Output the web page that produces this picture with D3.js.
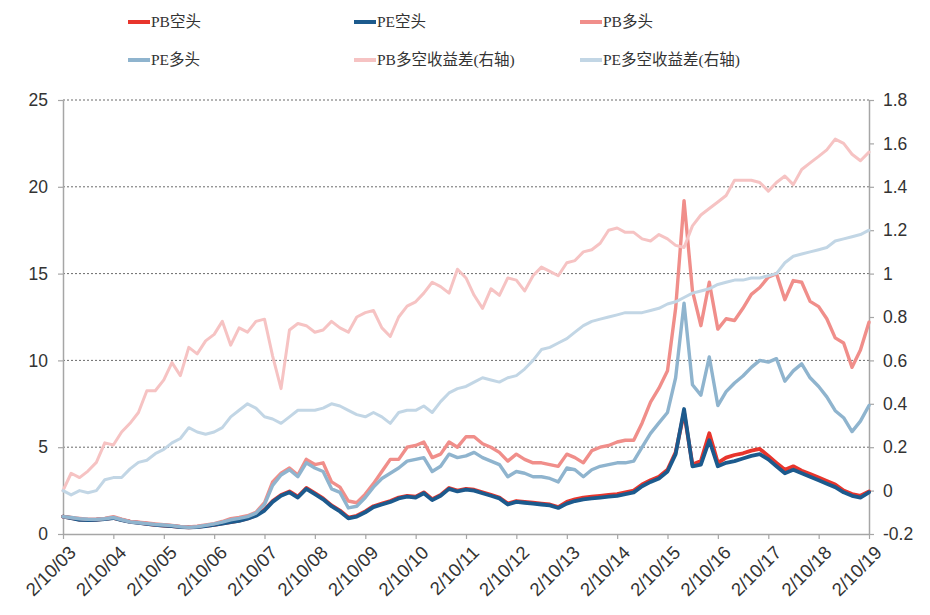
<!DOCTYPE html>
<html><head><meta charset="utf-8">
<script src="https://cdn.jsdelivr.net/npm/d3@7"></script>
<style>body{margin:0;background:#fff} svg{display:block}</style>
</head><body><svg id="c" width="930" height="615"></svg>
<script>
const dates = [
"2003-02-10","2003-04-10","2003-06-10","2003-08-10","2003-10-10","2003-12-10",
"2004-02-10","2004-04-10","2004-06-10","2004-08-10","2004-10-10","2004-12-10",
"2005-02-10","2005-04-10","2005-06-10","2005-08-10","2005-10-10","2005-12-10",
"2006-02-10","2006-04-10","2006-06-10","2006-08-10","2006-10-10","2006-12-10",
"2007-02-10","2007-04-10","2007-06-10","2007-08-10","2007-10-10","2007-12-10",
"2008-02-10","2008-04-10","2008-06-10","2008-08-10","2008-10-10","2008-12-10",
"2009-02-10","2009-04-10","2009-06-10","2009-08-10","2009-10-10","2009-12-10",
"2010-02-10","2010-04-10","2010-06-10","2010-08-10","2010-10-10","2010-12-10",
"2011-02-10","2011-04-10","2011-06-10","2011-08-10","2011-10-10","2011-12-10",
"2012-02-10","2012-04-10","2012-06-10","2012-08-10","2012-10-10","2012-12-10",
"2013-02-10","2013-04-10","2013-06-10","2013-08-10","2013-10-10","2013-12-10",
"2014-02-10","2014-04-10","2014-06-10","2014-08-10","2014-10-10","2014-12-10",
"2015-02-10","2015-04-10","2015-06-10","2015-08-10","2015-10-10","2015-12-10",
"2016-02-10","2016-04-10","2016-06-10","2016-08-10","2016-10-10","2016-12-10",
"2017-02-10","2017-04-10","2017-06-10","2017-08-10","2017-10-10","2017-12-10",
"2018-02-10","2018-04-10","2018-06-10","2018-08-10","2018-10-10","2018-12-10",
"2019-02-10"];

const pbShort = [
1.00,0.93,0.83,0.81,0.83,0.87, 0.93,0.81,0.71,0.65,0.59,0.53, 0.49,0.46,0.41,0.39,0.41,0.47,
0.53,0.61,0.69,0.77,0.90,1.08, 1.40,1.90,2.25,2.45,2.15,2.65, 2.35,2.05,1.65,1.35,0.95,1.05,
1.30,1.60,1.75,1.90,2.10,2.20, 2.15,2.40,2.00,2.25,2.65,2.50, 2.60,2.55,2.40,2.25,2.10,1.75,
1.90,1.85,1.80,1.75,1.70,1.55, 1.85,2.00,2.10,2.15,2.20,2.25, 2.30,2.40,2.50,2.85,3.10,3.30,
3.70,4.70,7.00,4.00,4.20,5.80, 4.10,4.40,4.55,4.65,4.80,4.90, 4.50,4.10,3.70,3.90,3.65,3.45,
3.25,3.05,2.85,2.50,2.30,2.20, 2.45];

const peShort = [
1.00,0.92,0.82,0.80,0.82,0.86, 0.92,0.80,0.70,0.64,0.58,0.52, 0.48,0.45,0.40,0.38,0.40,0.46,
0.52,0.60,0.68,0.75,0.88,1.05, 1.35,1.85,2.20,2.40,2.10,2.60, 2.30,2.00,1.60,1.30,0.90,1.00,
1.25,1.55,1.70,1.85,2.05,2.15, 2.10,2.35,1.95,2.20,2.60,2.45, 2.55,2.50,2.35,2.20,2.05,1.70,
1.85,1.80,1.75,1.70,1.65,1.50, 1.75,1.90,2.00,2.05,2.10,2.15, 2.20,2.30,2.40,2.75,3.00,3.20,
3.60,4.60,7.20,3.90,4.00,5.40, 3.90,4.10,4.20,4.35,4.50,4.60, 4.30,3.90,3.50,3.70,3.50,3.30,
3.10,2.90,2.70,2.40,2.20,2.10, 2.40];

const pbLong = [
1.00,0.95,0.90,0.85,0.85,0.90, 1.00,0.85,0.72,0.68,0.63,0.58, 0.54,0.50,0.44,0.40,0.45,0.52,
0.60,0.72,0.88,0.95,1.05,1.25, 1.80,3.00,3.50,3.80,3.40,4.30, 4.00,4.10,3.00,2.70,1.90,1.80,
2.30,2.90,3.60,4.30,4.30,5.00, 5.10,5.30,4.40,4.60,5.30,5.00, 5.60,5.60,5.20,5.00,4.70,4.20,
4.60,4.30,4.10,4.10,4.00,3.90, 4.60,4.40,4.10,4.80,5.00,5.10, 5.30,5.40,5.40,6.40,7.60,8.40,
9.40,13.0,19.2,14.0,12.0,14.5, 11.8,12.4,12.3,13.0,13.8,14.2, 14.8,15.0,13.5,14.6,14.5,13.4,
13.1,12.4,11.3,11.0,9.6,10.6, 12.2];

const peLong = [
1.00,0.95,0.88,0.85,0.84,0.88, 0.95,0.82,0.70,0.65,0.60,0.55, 0.52,0.48,0.42,0.38,0.42,0.50,
0.58,0.68,0.82,0.90,1.00,1.20, 1.70,2.80,3.40,3.70,3.30,4.10, 3.80,3.60,2.60,2.40,1.50,1.60,
2.10,2.70,3.20,3.50,3.80,4.20, 4.30,4.40,3.60,3.90,4.60,4.40, 4.50,4.70,4.40,4.20,4.00,3.30,
3.60,3.50,3.30,3.30,3.20,3.00, 3.80,3.70,3.30,3.70,3.90,4.00, 4.10,4.10,4.20,5.00,5.80,6.40,
7.00,9.00,13.3,8.60,8.00,10.2, 7.40,8.20,8.70,9.10,9.60,10.0, 9.90,10.1,8.80,9.40,9.80,9.00,
8.50,7.90,7.10,6.70,5.90,6.50, 7.40];

const pbSpread = [
0.00,0.08,0.06,0.09,0.13,0.22, 0.21,0.27,0.31,0.36,0.46,0.46, 0.51,0.59,0.53,0.66,0.63,0.69,
0.72,0.78,0.67,0.75,0.73,0.78, 0.79,0.62,0.47,0.74,0.77,0.76, 0.73,0.74,0.78,0.75,0.73,0.80,
0.82,0.83,0.75,0.71,0.80,0.85, 0.87,0.91,0.96,0.94,0.91,1.02, 0.98,0.90,0.84,0.93,0.90,0.98,
0.97,0.92,0.99,1.03,1.01,0.99, 1.05,1.06,1.10,1.11,1.14,1.20, 1.21,1.19,1.19,1.16,1.15,1.18,
1.16,1.13,1.12,1.22,1.27,1.30, 1.33,1.36,1.43,1.43,1.43,1.42, 1.38,1.42,1.45,1.41,1.48,1.51,
1.54,1.57,1.62,1.60,1.55,1.52, 1.56];

const peSpread = [
0.00,-0.02,0.00,-0.01,0.00,0.05, 0.06,0.06,0.10,0.13,0.14,0.17, 0.19,0.22,0.24,0.29,0.27,0.26,
0.27,0.29,0.34,0.37,0.40,0.38, 0.34,0.33,0.31,0.34,0.37,0.37, 0.37,0.38,0.40,0.39,0.37,0.35,
0.34,0.36,0.34,0.31,0.36,0.37, 0.37,0.39,0.36,0.41,0.45,0.47, 0.48,0.50,0.52,0.51,0.50,0.52,
0.53,0.56,0.60,0.65,0.66,0.68, 0.70,0.73,0.76,0.78,0.79,0.80, 0.81,0.82,0.82,0.82,0.83,0.84,
0.86,0.87,0.89,0.91,0.92,0.93, 0.95,0.96,0.97,0.97,0.98,0.98, 0.99,1.00,1.05,1.08,1.09,1.10,
1.11,1.12,1.15,1.16,1.17,1.18, 1.20];

const seriesNames = ["PB空头","PE空头","PB多头","PE多头","PB多空收益差(右轴)","PE多空收益差(右轴)"];
const leftTicks = [0,5,10,15,20,25];
const rightTicks = [-0.2,0,0.2,0.4,0.6,0.8,1,1.2,1.4,1.6,1.8];
const xTickDates = ["2003-02-10","2004-02-10","2005-02-10","2006-02-10","2007-02-10","2008-02-10",
"2009-02-10","2010-02-10","2011-02-10","2012-02-10","2013-02-10","2014-02-10","2015-02-10",
"2016-02-10","2017-02-10","2018-02-10","2019-02-10"];
const xTickLabels = ["2/10/03","2/10/04","2/10/05","2/10/06","2/10/07","2/10/08","2/10/09",
"2/10/10","2/10/11","2/10/12","2/10/13","2/10/14","2/10/15","2/10/16","2/10/17","2/10/18","2/10/19"];

const parse = d3.timeParse("%Y-%m-%d");
const D = dates.map(parse);
const svg = d3.select("#c");
const L = 63, R = 869, T = 100, B = 534;
const x = d3.scaleTime().domain([parse(xTickDates[0]), parse(xTickDates[xTickDates.length-1])]).range([L, R]);
const yL = d3.scaleLinear().domain([0, 25]).range([B, T]);
const yR = d3.scaleLinear().domain([-0.2, 1.8]).range([B, T]);

// gridlines
svg.append("g").selectAll("line").data(leftTicks.filter(v => v > 0)).join("line")
  .attr("x1", L).attr("x2", R).attr("y1", d => yL(d)).attr("y2", d => yL(d))
  .attr("stroke", "#6b6b6b").attr("stroke-width", 1).attr("stroke-dasharray", "2,2");

const axisFont = "'Liberation Sans', Arial, sans-serif";
function styleAxis(g) {
  g.select(".domain").attr("stroke", "#a6a6a6").attr("stroke-width", 1.5);
  g.selectAll(".tick line").attr("stroke", "#a6a6a6").attr("stroke-width", 1.2);
  g.selectAll("text").attr("fill", "#333").style("font-family", axisFont).style("font-size", "17.5px");
}

const gl = svg.append("g").attr("transform", `translate(${L},0)`)
  .call(d3.axisLeft(yL).tickValues(leftTicks).tickSize(5).tickPadding(10).tickSizeOuter(0));
styleAxis(gl);
const gr = svg.append("g").attr("transform", `translate(${R},0)`)
  .call(d3.axisRight(yR).tickValues(rightTicks).tickSize(5).tickPadding(9).tickSizeOuter(0)
    .tickFormat(d => String(+d.toFixed(1))));
styleAxis(gr);

const gx = svg.append("g").attr("transform", `translate(0,${B})`)
  .call(d3.axisBottom(x).tickValues(xTickDates.map(parse)).tickSize(5).tickSizeOuter(0)
    .tickFormat((d, i) => xTickLabels[i]));
styleAxis(gx);
gx.selectAll(".tick text").attr("text-anchor", "end").attr("dx", 0).attr("dy", 0)
  .attr("transform", "translate(8,14) rotate(-45)").style("font-size", "18.5px");

const colors = ["#e8352c", "#1c5a8d", "#f08e8a", "#8fb4ce", "#f6c3c3", "#c2d6e5"];
const widths = [3.8, 3.8, 3.4, 3.4, 3, 3];
const data = [pbShort, peShort, pbLong, peLong, pbSpread, peSpread];
const yScales = [yL, yL, yL, yL, yR, yR];

data.forEach((vals, k) => {
  const line = d3.line().x((d, i) => x(D[i])).y(d => yScales[k](d)).curve(d3.curveLinear);
  svg.append("path").datum(vals).attr("d", line).attr("fill", "none")
    .attr("stroke", colors[k]).attr("stroke-width", widths[k])
    .attr("stroke-linejoin", "round").attr("stroke-linecap", "round");
});

// legend
const legFont = "'Liberation Serif', 'Noto Sans CJK SC', serif";
const legPos = [[128, 22], [354, 22], [580, 22], [128, 60], [354, 60], [580, 60]];
seriesNames.forEach((name, k) => {
  const [lx, ly] = legPos[k];
  svg.append("line").attr("x1", lx).attr("x2", lx + 22).attr("y1", ly).attr("y2", ly)
    .attr("stroke", colors[k]).attr("stroke-width", 4);
  svg.append("text").attr("x", lx + 23).attr("y", ly).attr("dy", "0.35em")
    .style("font-family", legFont).style("font-size", "15.5px").attr("fill", "#333").text(name);
});
</script></body></html>
